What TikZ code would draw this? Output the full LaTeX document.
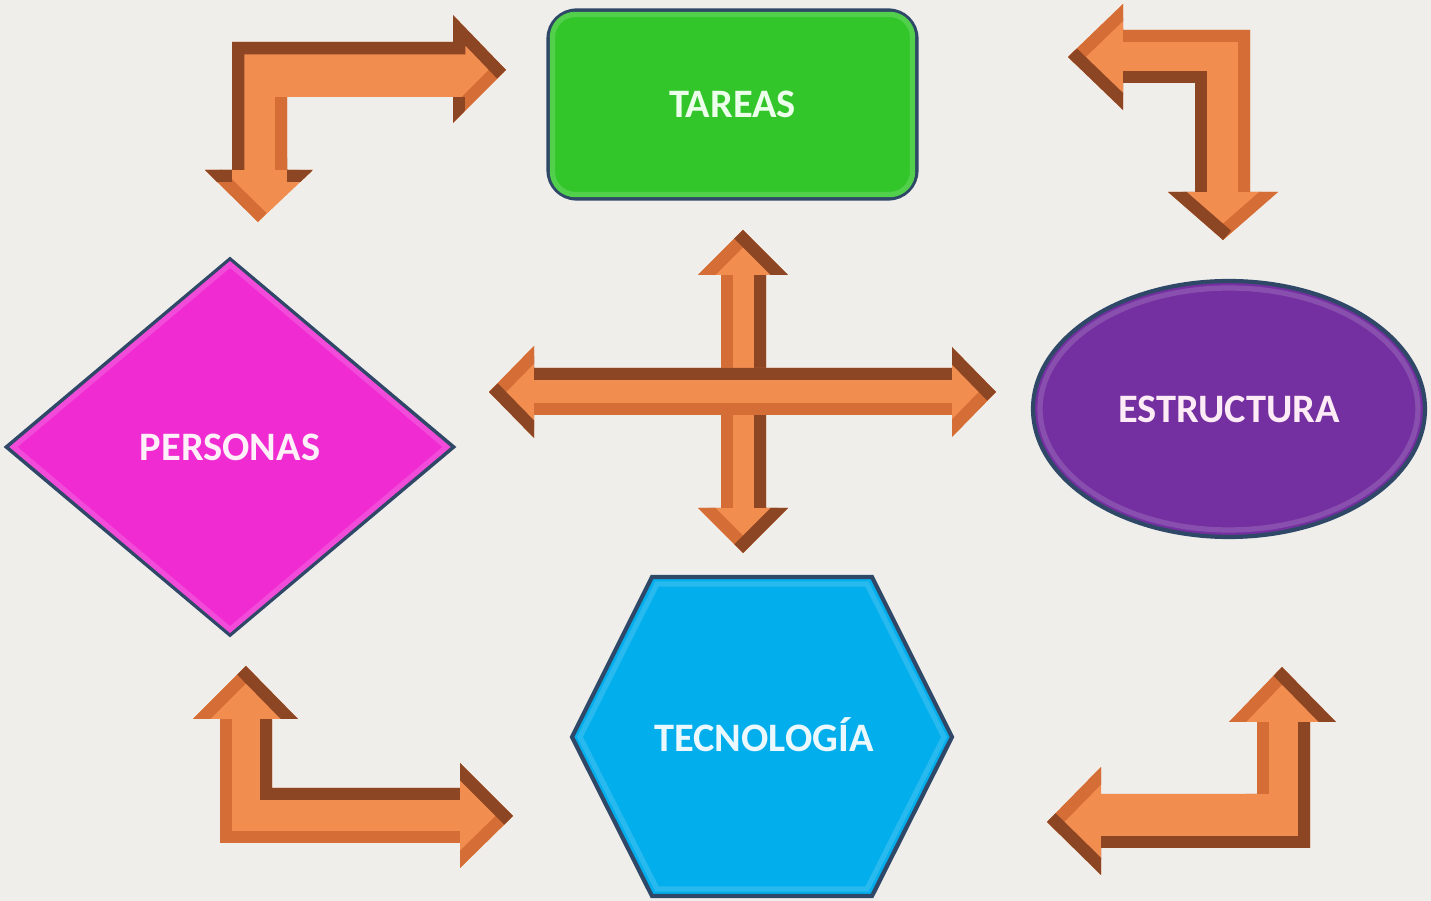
\documentclass[tikz,border=0pt]{standalone}
\usepackage{fontspec}
\setmainfont{Carlito}
\usetikzlibrary{shapes.geometric}
\definecolor{bg}{HTML}{EFEEEB}
\definecolor{aface}{HTML}{F28D50}
\definecolor{amid}{HTML}{D46D36}
\definecolor{adark}{HTML}{8C4624}
\definecolor{rim}{HTML}{2F4868}
\definecolor{cgreen}{HTML}{33C62B}
\definecolor{cpurple}{HTML}{7430A0}
\definecolor{cmagenta}{HTML}{F02BD2}
\definecolor{cblue}{HTML}{02AEEC}
\tikzset{
  box/.style={draw=rim, line width=2.4pt, inner sep=0pt,
    font=\bfseries\fontsize{23}{27}\selectfont},
  innerrim/.style={line width=3pt},
  aface/.style={fill=aface},
  bdark/.style={draw=adark, line width=14pt, line join=miter},
  bmid/.style={draw=amid, line width=14pt, line join=miter},
}
\begin{document}
\begin{tikzpicture}[x=0.02cm,y=-0.02cm]
\fill[bg] (0,0) rectangle (1431,901);
\useasboundingbox (0,0) rectangle (1431,901);

% ---------- shapes ----------
\node[box, rectangle, rounded corners=0.56cm, fill=cgreen,
  minimum width=7.36cm, minimum height=3.76cm, text=green!8!white] (tar) at (732.5,104.5) {TAREAS};
\draw[innerrim, draw=cgreen!85!white, rounded corners=0.46cm]
  ([xshift=0.12cm,yshift=-0.12cm]tar.north west) rectangle ([xshift=-0.12cm,yshift=0.12cm]tar.south east);
\node[box, ellipse, fill=cpurple,
  minimum width=7.84cm, minimum height=5.12cm, text=magenta!8!white] (est) at (1229,409) {ESTRUCTURA};
\draw[innerrim, draw=cpurple!85!white] (est.center) ellipse [x radius=3.78cm, y radius=2.42cm];
\node[box, diamond, fill=cmagenta,
  minimum width=8.96cm, minimum height=7.54cm, text=magenta!6!white] (per) at (230,447) {PERSONAS};
\draw[innerrim, draw=cmagenta!85!white, line join=miter]
  ([yshift=-0.16cm]per.north) -- ([xshift=-0.19cm]per.east) -- ([yshift=0.16cm]per.south) -- ([xshift=0.19cm]per.west) -- cycle;
\draw[box, fill=cblue, line join=miter]
  (652,577) -- (872,577) -- (952,737) -- (872,896) -- (652,896) -- (572,737) -- cycle;
\draw[innerrim, draw=cblue!85!white, line join=miter]
  (657,584) -- (867,584) -- (944,737) -- (867,889) -- (657,889) -- (580,737) -- cycle;
\node[font=\bfseries\fontsize{23}{27}\selectfont, text=cyan!8!white] (tec) at (764,735) {TECNOLOGÍA};

% ---------- arrow: top left ----------
\def\arrA{(232,42) -- (453,42) -- (453,15) -- (506,70) -- (453,123) -- (453,97) -- (287,97) -- (287,170) -- (313,170) -- (258,222) -- (205,170) -- (232,170) -- cycle}
\fill[aface] \arrA;
\begin{scope}
\clip \arrA;
\draw[bmid] (287,97) -- (287,170);
\draw[bmid] (205,170) -- (258,222);
\draw[bmid] (506,70) -- (453,123);
\draw[bdark] (232,170) -- (232,42) -- (453,42) -- (453,15) -- (506,70);
\draw[bdark] (453,97) -- (453,123);
\draw[bdark] (287,170) -- (313,170);
\draw[bdark] (232,170) -- (205,170);
\end{scope}

% ---------- arrow: top right ----------
\def\arrB{(1068,57) -- (1123,4) -- (1123,30) -- (1250,30) -- (1250,192) -- (1278,192) -- (1223,240) -- (1168,192) -- (1195,192) -- (1195,83) -- (1123,83) -- (1123,110) -- cycle}
\fill[aface] \arrB;
\begin{scope}
\clip \arrB;
\draw[bmid] (1123,30) -- (1250,30) -- (1250,192);
\draw[bmid] (1223,240) -- (1278,192);
\draw[bmid] (1068,57) -- (1123,4);
\draw[bdark] (1123,83) -- (1195,83) -- (1195,192);
\draw[bdark] (1068,57) -- (1123,110);
\draw[bdark] (1168,192) -- (1223,240);
\end{scope}

% ---------- arrow: bottom left ----------
\def\arrC{(246,666) -- (298,719) -- (272,719) -- (272,788) -- (460,788) -- (460,763) -- (513,816) -- (460,868) -- (460,843) -- (220,843) -- (220,719) -- (193,719) -- cycle}
\fill[aface] \arrC;
\begin{scope}
\clip \arrC;
\draw[bmid] (220,719) -- (220,843) -- (460,843);
\draw[bmid] (193,719) -- (246,666);
\draw[bmid] (513,816) -- (460,868);
\draw[bdark] (246,666) -- (298,719);
\draw[bdark] (272,719) -- (272,788) -- (460,788);
\draw[bdark] (460,763) -- (513,816);
\end{scope}

% ---------- arrow: bottom right ----------
\def\arrD{(1282,667) -- (1336,722) -- (1310,722) -- (1310,848) -- (1101,848) -- (1101,875) -- (1047,822) -- (1101,767) -- (1101,794) -- (1257,794) -- (1257,722) -- (1229,722) -- cycle}
\fill[aface] \arrD;
\begin{scope}
\clip \arrD;
\draw[bmid] (1257,794) -- (1257,722);
\draw[bmid] (1229,722) -- (1282,667);
\draw[bmid] (1047,822) -- (1101,767);
\draw[bdark] (1282,667) -- (1336,722);
\draw[bdark] (1310,722) -- (1310,848) -- (1101,848);
\draw[bdark] (1101,875) -- (1047,822);
\end{scope}

% ---------- central cross: vertical ----------
\def\arrV{(743,230) -- (788,275) -- (766,275) -- (766,508) -- (788,508) -- (743,553) -- (698,508) -- (721,508) -- (721,275) -- (698,275) -- cycle}
\fill[aface] \arrV;
\begin{scope}
\clip \arrV;
\draw[bmid] (721,275) -- (721,508);
\draw[bmid] (698,275) -- (743,230);
\draw[bmid] (698,508) -- (743,553);
\draw[bdark] (766,275) -- (766,508);
\draw[bdark] (743,230) -- (788,275);
\draw[bdark] (788,508) -- (743,553);
\end{scope}

% ---------- central cross: horizontal ----------
\def\arrH{(489,392) -- (534,346) -- (534,368) -- (952,368) -- (952,347) -- (996,392) -- (952,437) -- (952,415) -- (534,415) -- (534,438) -- cycle}
\fill[aface] \arrH;
\begin{scope}
\clip \arrH;
\draw[bmid] (534,415) -- (952,415);
\draw[bmid] (489,392) -- (534,346);
\draw[bmid] (996,392) -- (952,437);
\draw[bdark] (534,368) -- (952,368);
\draw[bdark] (952,347) -- (996,392);
\draw[bdark] (489,392) -- (534,438);
\end{scope}
\end{tikzpicture}
\end{document}
